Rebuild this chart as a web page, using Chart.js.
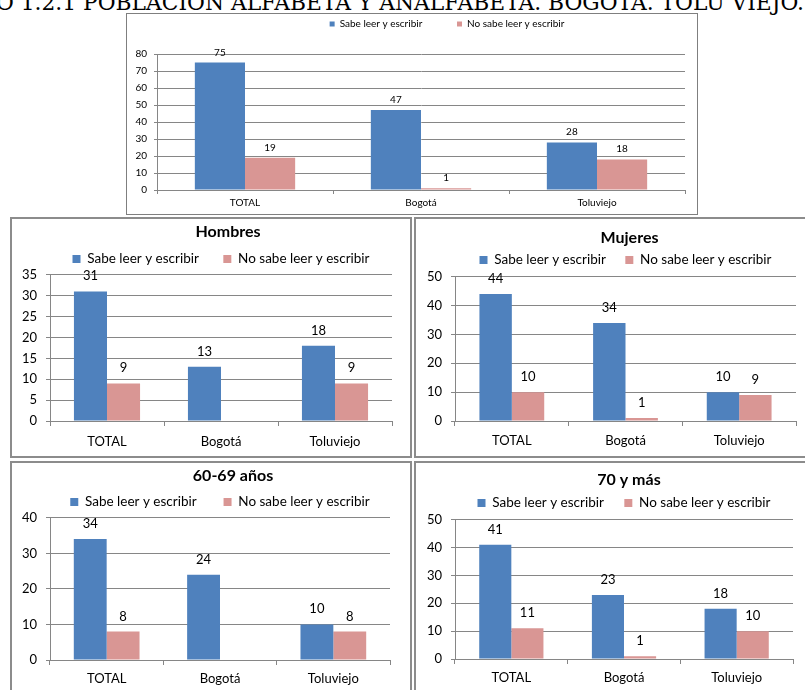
<!DOCTYPE html>
<html lang="es">
<head>
<meta charset="UTF-8">
<title>Población alfabeta y analfabeta. Bogotá. Tolú Viejo</title>
<script src="https://cdn.jsdelivr.net/npm/chart.js"></script>
<style>
  html, body { margin: 0; padding: 0; background: #fff; }
  body { position: relative; width: 805px; height: 690px; overflow: hidden; }
  #titulo {
    position: absolute; top: -8px; left: 0;
    white-space: nowrap; font-family: "DejaVu Serif", serif;
    font-size: 22px; line-height: 22px; color: #000;
    transform-origin: 0 0;
  }
  .caja { position: absolute; box-sizing: border-box; background: #fff; }
  .caja canvas { display: block; }
  #cajaTotal { left: 126px; top: 13px; width: 572px; height: 202px; border: 1px solid #7f7f7f; }
  .panel { border: 2px solid #8c8c8c; }
  #cajaHombres { left: 10px; top: 217px; width: 402px; height: 241px; }
  #cajaMujeres { left: 414px; top: 217px; width: 393px; height: 241px; }
  #caja60 { left: 10px; top: 461px; width: 402px; height: 234px; }
  #caja70 { left: 414px; top: 461px; width: 393px; height: 234px; }
</style>
</head>
<body>
  <div id="titulo"><span id="oculto">GRÁFIC</span><span id="visible">O 1.2.1 POBLACIÓN ALFABETA Y ANALFABETA. BOGOTÁ. TOLÚ VIEJO.</span></div>

  <div class="caja" id="cajaTotal"><canvas id="gTotal" width="570" height="200"></canvas></div>
  <div class="caja panel" id="cajaHombres"><canvas id="gHombres" width="398" height="237"></canvas></div>
  <div class="caja panel" id="cajaMujeres"><canvas id="gMujeres" width="389" height="237"></canvas></div>
  <div class="caja panel" id="caja60"><canvas id="g60" width="398" height="230"></canvas></div>
  <div class="caja panel" id="caja70"><canvas id="g70" width="389" height="230"></canvas></div>

<script>
  // datos
  const categorias = ['TOTAL', 'Bogotá', 'Toluviejo'];
  const series = ['Sabe leer y escribir', 'No sabe leer y escribir'];

  const totalSabe = [75, 47, 28];
  const totalNoSabe = [19, 1, 18];
  const hombresSabe = [31, 13, 18];
  const hombresNoSabe = [9, null, 9];
  const mujeresSabe = [44, 34, 10];
  const mujeresNoSabe = [10, 1, 9];
  const edad60Sabe = [34, 24, 10];
  const edad60NoSabe = [8, null, 8];
  const edad70Sabe = [41, 23, 18];
  const edad70NoSabe = [11, 1, 10];

  // [maximo, paso] del eje Y
  const ejeTotal = [80, 10];
  const ejeHombres = [35, 5];
  const ejeMujeres = [50, 10];
  const eje60 = [40, 10];
  const eje70 = [50, 10];

  const AZUL = '#4F81BD';
  const ROSA = '#D99694';
  const GRIS = '#868686';

  Chart.defaults.font.family = 'Lato, sans-serif';
  Chart.defaults.color = '#000';

  // titulo de la pagina, recortado como en la imagen
  const titulo = document.getElementById('titulo');
  const oculto = document.getElementById('oculto').getBoundingClientRect().width;
  const visible = document.getElementById('visible').getBoundingClientRect().width;
  const escala = 808 / visible;
  titulo.style.left = (-4 - oculto * escala) + 'px';
  titulo.style.transform = 'scaleX(' + escala + ')';

  const medidor = document.createElement('canvas').getContext('2d');
  function rellenar(texto, ancho, fuente) {
    medidor.font = fuente;
    let t = texto;
    while (medidor.measureText(t + ' ').width <= ancho) t += ' ';
    return t;
  }

  // valores encima de las barras
  const etiquetas = {
    id: 'etiquetas',
    afterDatasetsDraw(chart, args, opts) {
      const ctx = chart.ctx;
      ctx.save();
      ctx.font = opts.size + 'px Lato, sans-serif';
      ctx.fillStyle = '#000';
      ctx.textAlign = 'center';
      ctx.textBaseline = 'alphabetic';
      chart.data.datasets.forEach((ds, i) => {
        chart.getDatasetMeta(i).data.forEach((barra, j) => {
          if (ds.data[j] == null) return;
          ctx.fillText(String(ds.data[j]), barra.x, barra.y - opts.gap);
        });
      });
      ctx.restore();
    }
  };

  // espacio extra bajo la leyenda y desplazamiento horizontal de leyenda/titulo
  const margenLeyenda = {
    id: 'margenLeyenda',
    beforeInit(chart, args, opts) {
      const fitOrig = chart.legend.fit;
      chart.legend.fit = function () {
        fitOrig.call(this);
        this.height += opts.extra || 0;
      };
    },
    afterLayout(chart, args, opts) {
      if (opts.shift) {
        chart.legend.left += opts.shift;
        chart.legend.right += opts.shift;
      }
      if (opts.titleShift && chart.titleBlock) {
        chart.titleBlock.left += opts.titleShift;
        chart.titleBlock.right += opts.titleShift;
      }
    }
  };

  function crearGrafico(id, titulo, sabe, noSabe, eje, L) {
    const objetivo = L.advance - L.lp - L.box - L.lfs / 2;
    new Chart(document.getElementById(id), {
      type: 'bar',
      data: {
        labels: categorias,
        datasets: [
          { label: series[0], data: sabe, backgroundColor: AZUL, borderWidth: 0,
            categoryPercentage: L.cat, barPercentage: 1 },
          { label: series[1], data: noSabe, backgroundColor: ROSA, borderWidth: 0,
            categoryPercentage: L.cat, barPercentage: 1 }
        ]
      },
      options: {
        responsive: false,
        animation: false,
        layout: { padding: { left: 0, right: L.right, top: L.top || 0, bottom: 0 } },
        plugins: {
          title: {
            display: !!titulo,
            text: titulo,
            fullSize: false,
            color: '#000',
            font: { size: 16, weight: 'bold' },
            padding: { top: L.tp, bottom: 0 }
          },
          legend: {
            position: 'top',
            fullSize: false,
            labels: {
              boxWidth: L.box,
              boxHeight: L.box,
              padding: L.lp,
              color: '#000',
              font: { size: L.lfs },
              generateLabels(chart) {
                const items = Chart.defaults.plugins.legend.labels.generateLabels(chart);
                items[0].text = rellenar(items[0].text, objetivo, L.lfs + 'px Lato, sans-serif');
                return items;
              }
            }
          },
          tooltip: { enabled: false },
          etiquetas: { size: L.fs, gap: L.gap },
          margenLeyenda: { extra: L.extra, shift: L.shift, titleShift: L.tshift }
        },
        scales: {
          x: {
            afterFit(scale) { scale.height = L.axisH; },
            grid: { display: true, drawOnChartArea: false, drawTicks: true, tickLength: L.xtl, color: GRIS },
            border: { display: true, color: GRIS },
            ticks: { color: '#000', font: { size: L.fs }, padding: L.xpad, maxRotation: 0, autoSkip: false }
          },
          y: {
            min: 0,
            max: eje[0],
            afterFit(scale) { scale.width = L.left; },
            grid: { color: GRIS, tickLength: L.ytl },
            border: { display: true, color: GRIS },
            ticks: { stepSize: eje[1], color: '#000', font: { size: L.fs }, padding: L.ypad }
          }
        }
      },
      plugins: [etiquetas, margenLeyenda]
    });
  }

  crearGrafico('gTotal', '', totalSabe, totalNoSabe, ejeTotal, {
    fs: 10, lfs: 10, box: 5, top: 1, tp: 0, lp: 4, extra: 15, shift: 26, tshift: 0, advance: 128.5,
    left: 30, right: 12, axisH: 24, xtl: 4, xpad: 3, ytl: 3, ypad: 7, gap: 7, cat: 0.57
  });
  crearGrafico('gHombres', 'Hombres', hombresSabe, hombresNoSabe, ejeHombres, {
    fs: 13, lfs: 13.5, box: 8, tp: 3.4, lp: 10.65, extra: -1, shift: 0, tshift: 7, advance: 152,
    left: 38, right: 18, axisH: 35, xtl: 5, xpad: 8, ytl: 4, ypad: 9, gap: 11, cat: 0.58
  });
  crearGrafico('gMujeres', 'Mujeres', mujeresSabe, mujeresNoSabe, ejeMujeres, {
    fs: 13, lfs: 13.5, box: 8, tp: 9.4, lp: 5.65, extra: 0, shift: 0, tshift: 4, advance: 148,
    left: 39, right: 9, axisH: 35, xtl: 5, xpad: 7, ytl: 4, ypad: 9, gap: 11, cat: 0.57
  });
  crearGrafico('g60', '60-69 años', edad60Sabe, edad60NoSabe, eje60, {
    fs: 13, lfs: 13.5, box: 8, tp: 3.4, lp: 9.65, extra: -1, shift: 0, tshift: 13, advance: 154,
    left: 38, right: 20, axisH: 33, xtl: 5, xpad: 6, ytl: 4, ypad: 9, gap: 11, cat: 0.58
  });
  crearGrafico('g70', '70 y más', edad70Sabe, edad70NoSabe, eje70, {
    fs: 13, lfs: 13.5, box: 8, tp: 7.4, lp: 6.65, extra: 0, shift: 0, tshift: 5, advance: 148,
    left: 39, right: 12, axisH: 34, xtl: 5, xpad: 6, ytl: 4, ypad: 9, gap: 11, cat: 0.57
  });
</script>
</body>
</html>
